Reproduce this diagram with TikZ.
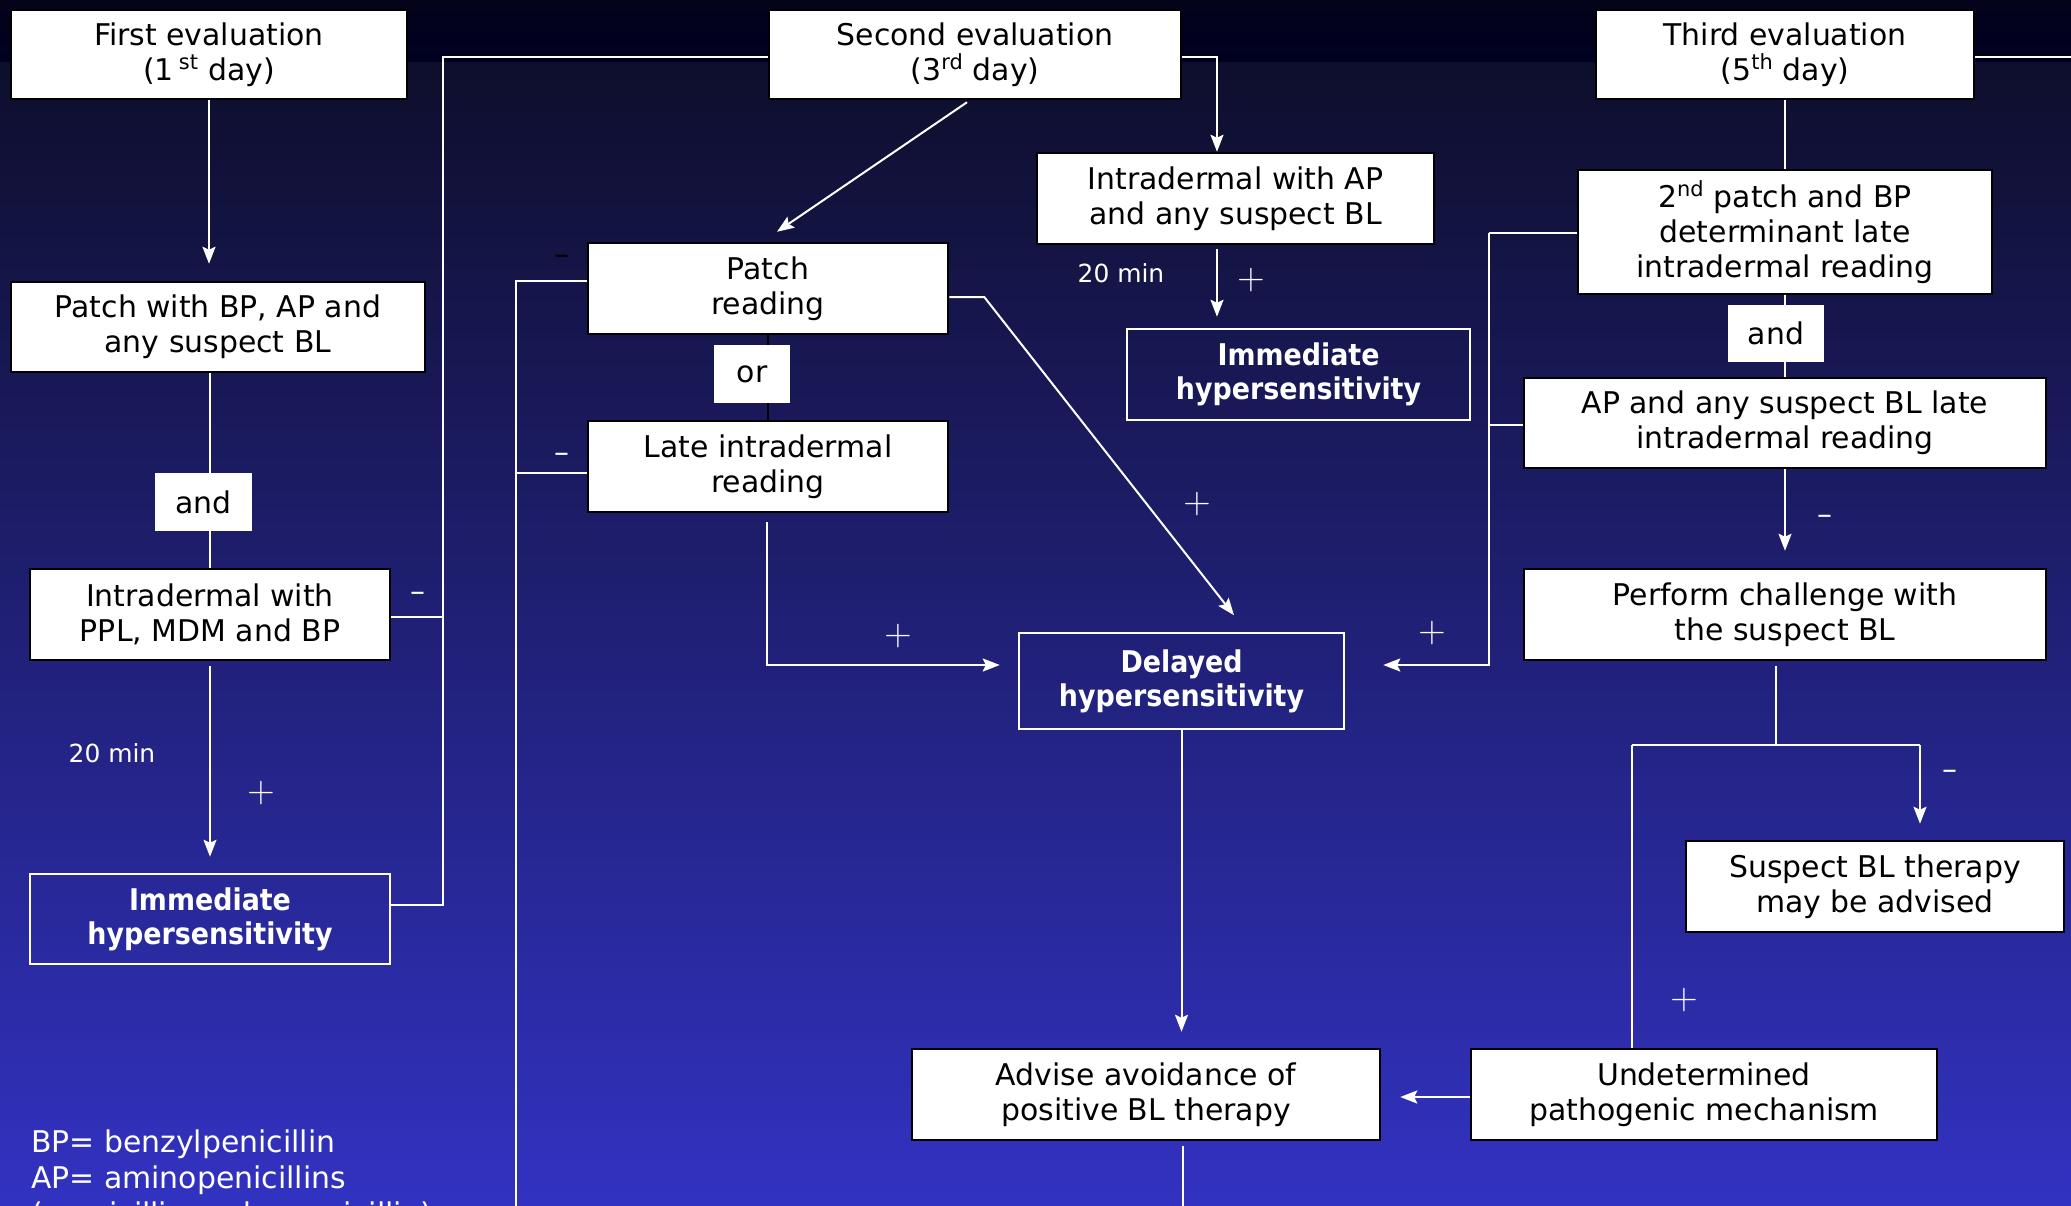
\RequirePackage{fix-cm}
\documentclass[tikz,border=0pt]{standalone}
\usepackage{fontspec}
\setmainfont{DejaVu Sans}
\newfontfamily\condfont{DejaVu Sans Condensed}
\usetikzlibrary{arrows.meta,calc}
\pgfdeclarelayer{bg}
\pgfdeclarelayer{lines}
\pgfsetlayers{bg,lines,main}
\definecolor{bandA}{HTML}{03031A}
\definecolor{bandB}{HTML}{000022}
\definecolor{gradA}{HTML}{0E0E2C}
\definecolor{gradM}{HTML}{20207E}
\definecolor{gradB}{HTML}{3232C2}
\tikzset{
  wbox/.style={draw=black, fill=white, line width=2.5bp, text=black, align=center, inner sep=0pt, font=\fontsize{30}{35}\selectfont},
  bbox/.style={draw=white, line width=2.5bp, text=white, align=center, inner sep=0pt, font=\condfont\bfseries\fontsize{30}{34}\selectfont},
  tag/.style={fill=white, text=black, inner sep=0pt, font=\fontsize{30}{35}\selectfont},
  conn/.style={draw=white, line width=2bp},
  arr/.style={conn, -{Stealth[length=17bp,width=13bp,inset=3bp]}},
  lab/.style={text=white, inner sep=0pt, font=\fontsize{25}{30}\selectfont},
  sign/.style={text=white, inner sep=0pt, font=\fontsize{30}{35}\selectfont},
  plus/.style={text=white, inner sep=0pt, font=\fontsize{38}{40}\selectfont},
  legend/.style={text=white, inner sep=0pt, anchor=base west, font=\fontsize{30}{36}\selectfont},
}
\begin{document}
\begin{tikzpicture}[x=1bp,y=-1bp]
\useasboundingbox (0,0) rectangle (2071,1205);
\begin{pgfonlayer}{bg}
\fill[top color=bandA, bottom color=bandB] (0,0) rectangle (2071,63);
\fill[top color=gradA, middle color=gradM, bottom color=gradB] (0,62) rectangle (2071,1205);
\end{pgfonlayer}

% boxes
\node[wbox, minimum width=396bp, minimum height=89bp] (first) at (209,54.5) {First evaluation\\(1\,\textsuperscript{st} day)};
\node[wbox, minimum width=412bp, minimum height=89bp] (second) at (975,54.5) {Second evaluation\\(3\textsuperscript{rd} day)};
\node[wbox, minimum width=378bp, minimum height=89bp] (third) at (1785,54.5) {Third evaluation\\(5\textsuperscript{th} day)};
\node[wbox, minimum width=414bp, minimum height=90bp] (patchBP) at (218,327) {Patch with BP, AP and\\any suspect BL};
\node[tag, minimum width=97bp, minimum height=58bp] (andL) at (203.5,502) {and};
\node[wbox, minimum width=360bp, minimum height=91bp] (ppl) at (210,614.5) {Intradermal with\\PPL, MDM and BP};
\node[bbox, minimum width=360bp, minimum height=90bp] (immL) at (210,919) {Immediate\\hypersensitivity};
\node[wbox, minimum width=360bp, minimum height=91bp] (patchR) at (768,288.5) {Patch\\reading};
\node[tag, minimum width=76bp, minimum height=58bp] (orbox) at (752,374) {or};
\node[wbox, minimum width=360bp, minimum height=91bp] (late) at (768,466.5) {Late intradermal\\reading};
\node[wbox, minimum width=397bp, minimum height=91bp] (idAP) at (1235.5,198.5) {Intradermal with AP\\and any suspect BL};
\node[bbox, minimum width=343bp, minimum height=91bp] (immM) at (1298.5,374.5) {Immediate\\hypersensitivity};
\node[bbox, minimum width=325bp, minimum height=96bp] (delayed) at (1181.5,681) {Delayed\\hypersensitivity};
\node[wbox, minimum width=414bp, minimum height=124bp] (patch2) at (1785,232) {2\textsuperscript{nd} patch and BP\\determinant late\\intradermal reading};
\node[tag, minimum width=96bp, minimum height=57bp] (andR) at (1776,333.5) {and};
\node[wbox, minimum width=522bp, minimum height=90bp] (aplate) at (1785,423) {AP and any suspect BL late\\intradermal reading};
\node[wbox, minimum width=522bp, minimum height=91bp] (perform) at (1785,614.5) {Perform challenge with\\the suspect BL};
\node[wbox, minimum width=378bp, minimum height=91bp] (suspect) at (1875,886.5) {Suspect BL therapy\\may be advised};
\node[wbox, minimum width=468bp, minimum height=91bp] (advise) at (1146,1094.5) {Advise avoidance of\\positive BL therapy};
\node[wbox, minimum width=466bp, minimum height=91bp] (undet) at (1704,1094.5) {Undetermined\\pathogenic mechanism};

% labels
\node[lab] (t20L) at (112,753) {20 min};
\node[plus] (pL) at (261,793) {$+$};
\node[sign] (mL) at (418,597) {–};
\node[sign, text=black] (mPR) at (562,260) {–};
\node[sign] (mLate) at (562,458) {–};
\node[plus] (pLate) at (898,636) {$+$};
\node[plus] (pDiag) at (1197,504) {$+$};
\node[plus] (pRight) at (1432,633) {$+$};
\node[lab] (t20M) at (1121,273) {20 min};
\node[plus] (pM) at (1251,280) {$+$};
\node[sign] (mPerf) at (1825,520) {–};
\node[sign] (mSus) at (1950,775) {–};
\node[plus] (pUnd) at (1684,1000) {$+$};

% legend
\node[legend] (leg1) at (31,1152) {BP= benzylpenicillin};
\node[legend] (leg2) at (31,1188) {AP= aminopenicillins};
\node[legend] (leg3) at (31,1224) {(ampicillin and amoxicillin)};

% coordinates
\coordinate (busL) at (443,57);
\coordinate (c2) at (1217,57);
\coordinate (busM) at (516,1230);
\coordinate (busR) at (1489,233);
\coordinate (redge) at (2080,57);
\coordinate (sp) at (1776,745);
\coordinate (spl) at (1632,745);
\coordinate (spr) at (1920,745);
\coordinate (bot) at (1182.5,1230);
\coordinate (pw) at ($(patchR.west)+(0,-7.5)$);
\coordinate (lw) at ($(late.west)+(0,6.5)$);
\coordinate (pe) at ($(patchR.east)+(0,8.5)$);
\coordinate (pk) at ($(pe)+(35,0)$);
\coordinate (dtip) at ($(delayed.north)+(52.5,-16.5)$);
\coordinate (aw) at ($(aplate.west)+(0,2)$);

\begin{pgfonlayer}{lines}
% left column
\draw[arr, shorten >=17bp] (first.south) -- (first.south |- patchBP.north);
\draw[conn] (ppl.north |- patchBP.south) -- (ppl.north);
\draw[arr, shorten >=16bp] ($(ppl.south)+(0,5)$) -- (immL.north);
\draw[conn] ($(ppl.east)+(0,2.5)$) -- ($(ppl.east -| busL)+(0,2.5)$);
\draw[conn] ($(immL.east)+(0,-14)$) -| (busL) -- (busL -| second.west);
% second evaluation
\draw[arr] ($(second.south)+(-8,2)$) -- ($(patchR.north)+(9,-10)$);
\draw[arr] (second.east |- c2) -| (c2 |- idAP.north);
\draw[arr, shorten >=11bp] ($(idAP.south -| c2)+(0,4)$) -- (c2 |- immM.north);
\draw[line width=2bp, black] (patchR.south) -- (late.north);
\draw[conn] (pw) -| (busM);
\draw[conn] (lw) -- (lw -| busM);
\draw[arr] (pe) -- (pk) -- (dtip);
\draw[arr, shorten >=18bp] ($(late.south)+(-1,9)$) |- ($(delayed.west)+(0,-16)$);
% third evaluation
\draw[conn] (third.east |- redge) -- (redge);
\draw[conn] (third.south) -- (patch2.north);
\draw[conn] (patch2.south) -- (aplate.north);
\draw[conn] (patch2.west |- busR) -- (busR);
\draw[conn] (aw) -- (aw -| busR);
\draw[arr, shorten >=38bp] (busR) |- ($(delayed.east)+(0,-16)$);
\draw[arr, shorten >=17bp] (aplate.south) -- (perform.north);
\draw[conn] ($(perform.south -| sp)+(0,5)$) -- (sp);
\draw[conn] (spl) -- (spr);
\draw[arr, shorten >=16bp] (spr) -- (spr |- suspect.north);
\draw[conn] (spl) -- (spl |- undet.north);
% bottom
\draw[arr, shorten >=16bp] (delayed.south) -- (delayed.south |- advise.north);
\draw[arr, shorten >=19bp] ($(undet.west)+(0,2.5)$) -- ($(advise.east)+(0,2.5)$);
\draw[conn] ($(advise.south -| bot)+(0,5)$) -- (bot);
\end{pgfonlayer}
\end{tikzpicture}
\end{document}
